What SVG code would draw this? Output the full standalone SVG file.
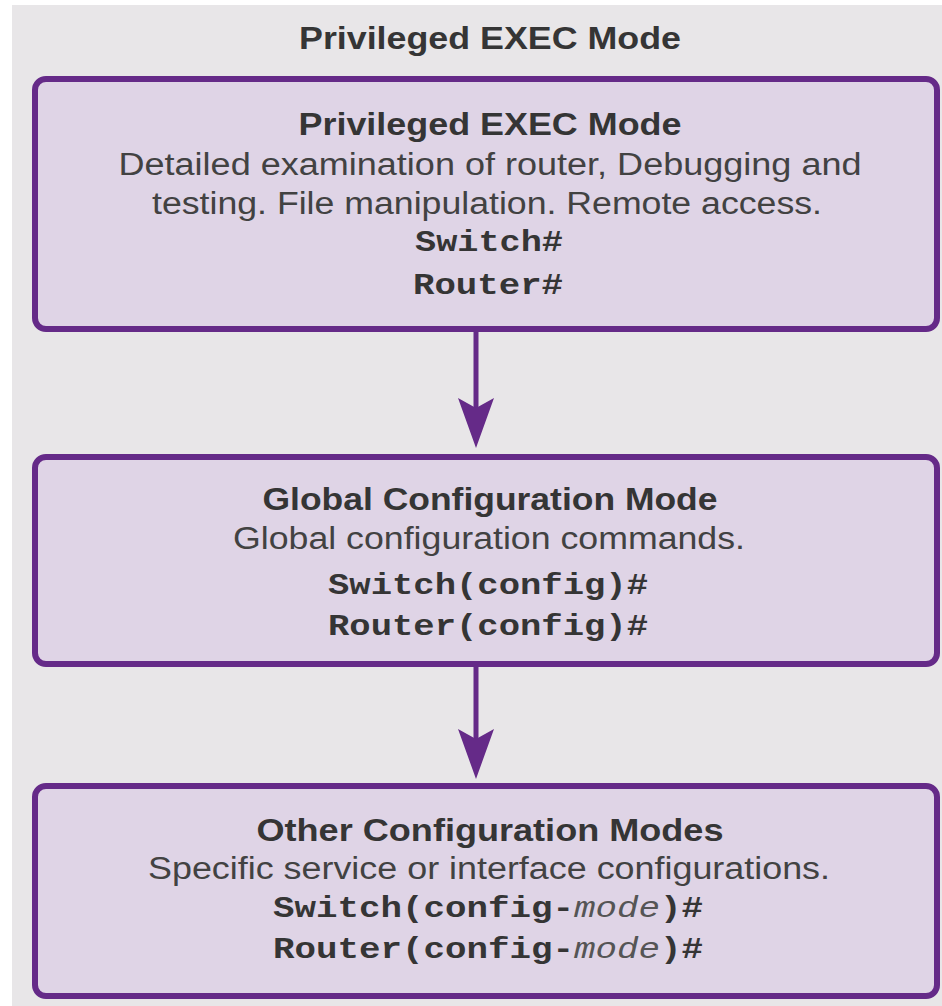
<svg xmlns="http://www.w3.org/2000/svg" width="942" height="1006" viewBox="0 0 942 1006">
  <style>
    .panel { fill: #e8e6e8; }
    .mode { fill: #dfd4e6; stroke: #652a88; stroke-width: 6; }
    .head { font-family: "Liberation Sans", Arial, sans-serif; font-weight: bold; font-size: 31px; fill: #353535; text-anchor: middle; }
    .desc { font-family: "Liberation Sans", Arial, sans-serif; font-size: 31px; fill: #424242; text-anchor: middle; }
    .cmd { font-family: "Liberation Mono", "Courier New", monospace; font-weight: bold; font-size: 30px; fill: #353535; text-anchor: middle; }
    .var { font-weight: normal; font-style: italic; fill: #555; }
    .link { stroke: #652a88; stroke-width: 5; fill: none; }
  </style>
  <defs>
    <marker id="arrowhead" markerUnits="userSpaceOnUse" markerWidth="52" markerHeight="40" refX="10" refY="18" orient="auto" overflow="visible">
      <path d="M50,18 L0,0 L10,18 L0,36 Z" fill="#652a88"/>
    </marker>
  </defs>

  <rect class="panel" x="12" y="5" width="930" height="1001"/>
  <text class="head" x="490" y="49" textLength="382" lengthAdjust="spacingAndGlyphs">Privileged EXEC Mode</text>

  <g id="connectors">
    <line class="link" x1="476" y1="332" x2="476" y2="408" marker-end="url(#arrowhead)"/>
    <line class="link" x1="476" y1="667" x2="476" y2="739" marker-end="url(#arrowhead)"/>
  </g>

  <g id="privileged-exec">
    <rect class="mode" x="35" y="79" width="902" height="250" rx="11"/>
    <text class="head" x="490" y="135" textLength="383" lengthAdjust="spacingAndGlyphs">Privileged EXEC Mode</text>
    <text class="desc" x="490" y="175" textLength="743" lengthAdjust="spacingAndGlyphs">Detailed examination of router, Debugging and</text>
    <text class="desc" x="487" y="214" textLength="670" lengthAdjust="spacingAndGlyphs">testing. File manipulation. Remote access.</text>
    <text class="cmd" x="489" y="251" textLength="148" lengthAdjust="spacingAndGlyphs">Switch#</text>
    <text class="cmd" x="488" y="294" textLength="150" lengthAdjust="spacingAndGlyphs">Router#</text>
  </g>

  <g id="global-config">
    <rect class="mode" x="35" y="457" width="902" height="207" rx="11"/>
    <text class="head" x="490" y="510" textLength="455" lengthAdjust="spacingAndGlyphs">Global Configuration Mode</text>
    <text class="desc" x="489" y="549" textLength="512" lengthAdjust="spacingAndGlyphs">Global configuration commands.</text>
    <text class="cmd" x="488" y="594" textLength="320" lengthAdjust="spacingAndGlyphs">Switch(config)#</text>
    <text class="cmd" x="488" y="635" textLength="320" lengthAdjust="spacingAndGlyphs">Router(config)#</text>
  </g>

  <g id="other-config">
    <rect class="mode" x="35" y="786" width="902" height="210" rx="11"/>
    <text class="head" x="490" y="841" textLength="467" lengthAdjust="spacingAndGlyphs">Other Configuration Modes</text>
    <text class="desc" x="489" y="879" textLength="682" lengthAdjust="spacingAndGlyphs">Specific service or interface configurations.</text>
    <text class="cmd" x="488" y="917" textLength="430" lengthAdjust="spacingAndGlyphs">Switch(config-<tspan class="var">mode</tspan>)#</text>
    <text class="cmd" x="488" y="958" textLength="430" lengthAdjust="spacingAndGlyphs">Router(config-<tspan class="var">mode</tspan>)#</text>
  </g>
</svg>
